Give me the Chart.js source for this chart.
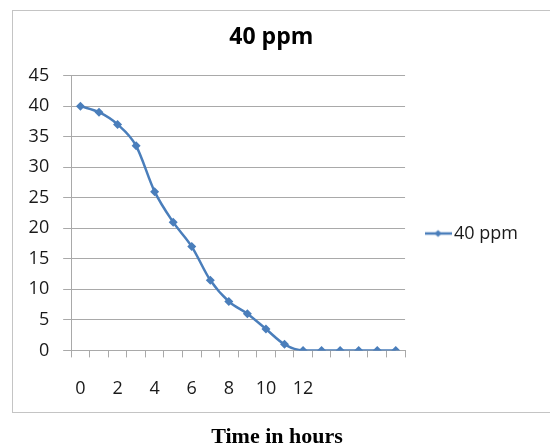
<!DOCTYPE html>
<html>
<head>
<meta charset="utf-8">
<script src="https://cdn.jsdelivr.net/npm/chart.js@4.4.0/dist/chart.umd.min.js"></script>
<style>
  html, body { margin: 0; padding: 0; background: #fff; }
  #wrap { width: 550px; height: 445px; }
</style>
</head>
<body>
<div id="wrap"><canvas id="chart" width="550" height="445"></canvas></div>
<script>
// x categories, Excel only printed every second hour up to 12
const hourLabels = ['0', '', '2', '', '4', '', '6', '', '8', '', '10', '', '12', '', '', '', '', ''];
// concentration left (ppm)
const ppm40 = [40, 39, 37, 33.5, 26, 21, 17, 11.5, 8, 6, 3.5, 1, 0, 0, 0, 0, 0, 0];
// y axis range
const yMin = 0;
const yMax = 45;
const yStep = 5;
const xTitle = 'Time in hours';

const lineColor = '#4a7ebb';
const gridColor = '#a9a9a9';
const textColor = '#1a1a1a';
const tickFont = { family: 'Open Sans', size: 18 };

// legend marker: short line with a small diamond in the middle
const mark = document.createElement('canvas');
mark.width = 27;
mark.height = 10;
const m = mark.getContext('2d');
m.strokeStyle = lineColor;
m.lineWidth = 2.5;
m.beginPath();
m.moveTo(0, 5);
m.lineTo(27, 5);
m.stroke();
m.fillStyle = lineColor;
m.beginPath();
m.moveTo(13.5, 1.5);
m.lineTo(17, 5);
m.lineTo(13.5, 8.5);
m.lineTo(10, 5);
m.closePath();
m.fill();

// white background, the light frame, and the axis title that sits below the frame
const framePlugin = {
  id: 'frame',
  beforeDraw(chart) {
    const ctx = chart.ctx;
    ctx.save();
    ctx.fillStyle = '#fff';
    ctx.fillRect(0, 0, chart.width, chart.height);
    ctx.strokeStyle = '#c4c4c4';
    ctx.lineWidth = 1;
    ctx.strokeRect(12.5, 10.5, 560, 402);
    ctx.restore();
  },
  afterDraw(chart) {
    const ctx = chart.ctx;
    ctx.save();
    ctx.fillStyle = '#000';
    ctx.font = 'bold 22px "Liberation Serif"';
    ctx.textAlign = 'center';
    ctx.textBaseline = 'alphabetic';
    ctx.fillText(xTitle, 277, 443);
    ctx.restore();
  }
};

new Chart(document.getElementById('chart'), {
  type: 'line',
  data: {
    labels: hourLabels,
    datasets: [{
      label: '40 ppm',
      data: ppm40,
      borderColor: lineColor,
      backgroundColor: lineColor,
      borderWidth: 2.5,
      cubicInterpolationMode: 'monotone',
      pointStyle: 'rectRot',
      pointRadius: 4.5,
      pointBorderWidth: 0,
      fill: false
    }]
  },
  options: {
    responsive: false,
    animation: false,
    layout: { padding: { left: 14.6, right: 22, top: 0, bottom: 24 } },
    plugins: {
      title: {
        display: true,
        text: '40 ppm',
        color: '#000',
        font: { family: 'Open Sans', size: 23, weight: 'bold' },
        padding: { top: 24, bottom: 24 }
      },
      legend: {
        position: 'right',
        // empty title only pushes the single entry down to where Excel put it
        title: {
          display: true,
          text: ' ',
          font: { size: 10, lineHeight: 1 },
          padding: { top: 18, bottom: 18 }
        },
        labels: {
          usePointStyle: true,
          pointStyleWidth: 14,
          padding: 26,
          color: textColor,
          font: tickFont,
          generateLabels(chart) {
            const items = Chart.defaults.plugins.legend.labels.generateLabels(chart);
            items.forEach(it => { it.pointStyle = mark; });
            return items;
          }
        }
      },
      tooltip: { enabled: false }
    },
    scales: {
      x: {
        offset: true,
        grid: { offset: true, drawOnChartArea: false, tickLength: 7, color: gridColor },
        border: { color: gridColor },
        ticks: { autoSkip: false, maxRotation: 0, padding: 21, color: textColor, font: tickFont }
      },
      y: {
        min: yMin,
        max: yMax,
        ticks: { stepSize: yStep, padding: 14, color: textColor, font: tickFont },
        grid: { tickLength: 8, color: gridColor },
        border: { color: gridColor }
      }
    }
  },
  plugins: [framePlugin]
});
</script>
</body>
</html>
